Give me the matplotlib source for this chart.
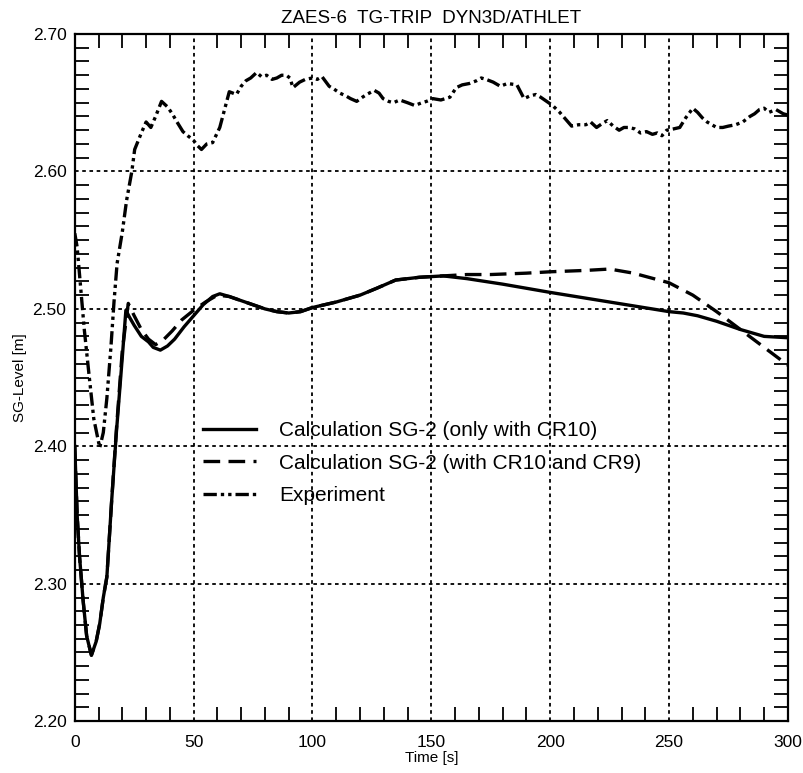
import numpy as np
import matplotlib
matplotlib.use("Agg")
import matplotlib.pyplot as plt
from matplotlib.ticker import MultipleLocator

plt.rcParams['font.family'] = ['Liberation Sans', 'DejaVu Sans']

# Experiment (dash-dot)
exp_t = [0, 1, 2, 4, 6, 8, 10.5, 12, 13.5, 15.2, 16.5, 17.8, 20, 21.8, 24, 25.2, 28, 30,
         32, 34, 36.5, 39, 41, 43, 45.5, 47.5, 49.8, 51.5, 53.3, 55.5, 58, 61, 63, 65, 68,
         70, 72, 74, 76.5, 78.5, 80.7, 83, 85, 87, 89, 90.5, 91.8, 94.6, 97, 100, 102, 104,
         107, 109, 111.5, 114, 116, 118.6, 121, 122.8, 126, 128, 129.7, 132, 134, 136.7,
         140, 143, 146, 148, 150.6, 154, 157.8, 160.5, 163, 166, 169, 171, 173, 176, 179,
         182, 186, 189, 191.5, 194, 196, 198.5, 201, 204, 206.5, 209, 212, 215, 217,
         219.5, 222, 224, 226.5, 229, 231, 233, 235.5, 238, 240.5, 243, 245, 247, 249,
         252, 254.5, 257, 260, 262, 264, 266, 268, 270, 272.6, 275, 278, 281, 284, 286,
         288, 290, 292, 295, 298, 300]
exp_v = [2.555, 2.545, 2.525, 2.485, 2.452, 2.420, 2.399, 2.410, 2.435, 2.472, 2.505, 2.533,
         2.556, 2.579, 2.600, 2.616, 2.628, 2.636, 2.632, 2.640, 2.651, 2.647, 2.642, 2.636,
         2.629, 2.626, 2.623, 2.619, 2.616, 2.620, 2.621, 2.632, 2.645, 2.658, 2.656,
         2.662, 2.666, 2.668, 2.672, 2.669, 2.670, 2.667, 2.668, 2.670, 2.670, 2.668,
         2.661, 2.665, 2.667, 2.668, 2.667, 2.669, 2.662, 2.660, 2.657, 2.655, 2.653,
         2.651, 2.654, 2.656, 2.659, 2.657, 2.653, 2.651, 2.650, 2.652, 2.650, 2.648,
         2.650, 2.651, 2.653, 2.652, 2.654, 2.661, 2.663, 2.664, 2.666, 2.668, 2.667,
         2.665, 2.662, 2.664, 2.663, 2.653, 2.655, 2.656, 2.654, 2.651, 2.648, 2.643,
         2.638, 2.633, 2.634, 2.634, 2.636, 2.632, 2.635, 2.637, 2.633, 2.630, 2.632,
         2.632, 2.631, 2.628, 2.629, 2.627, 2.628, 2.626, 2.630, 2.631, 2.632, 2.639,
         2.646, 2.643, 2.639, 2.636, 2.634, 2.632, 2.632, 2.633, 2.634, 2.636, 2.640,
         2.642, 2.645, 2.646, 2.643, 2.645, 2.642, 2.641]

# Calculation SG-2 (only with CR10), solid
cr10_t = [0, 1, 2, 3.5, 5, 7, 9, 10.5, 12, 13.5, 15.5, 17.5, 20, 21.5, 23, 25, 28, 31,
          33, 36, 39, 42, 46, 50, 54, 58, 61, 65, 70, 75, 80, 85, 90, 95, 100, 110,
          120, 127, 135, 145, 155, 165, 180, 200, 225, 250, 256, 262, 270, 280, 290, 300]
cr10_v = [2.400, 2.350, 2.320, 2.288, 2.262, 2.248, 2.258, 2.271, 2.290, 2.305, 2.360,
          2.410, 2.465, 2.499, 2.494, 2.488, 2.480, 2.476, 2.472, 2.470, 2.473, 2.478,
          2.487, 2.495, 2.503, 2.509, 2.511, 2.509, 2.506, 2.503, 2.500, 2.498, 2.497,
          2.498, 2.501, 2.505, 2.510, 2.515, 2.521, 2.523, 2.524, 2.522, 2.518, 2.512,
          2.505, 2.498, 2.497, 2.495, 2.491, 2.485, 2.480, 2.479]

# Calculation SG-2 (with CR10 and CR9), dashed
cr9_t = [0, 1, 2, 3.5, 5, 7, 9, 10.5, 12, 13.5, 15.5, 17.5, 20, 22.5, 25, 28, 31, 34,
         37, 41, 45, 50, 55, 60, 65, 70, 75, 80, 85, 90, 95, 100, 110, 120, 127, 135,
         145, 155, 165, 175, 190, 200, 215, 225, 235, 250, 260, 270, 280, 290, 300]
cr9_v = [2.400, 2.350, 2.320, 2.288, 2.262, 2.248, 2.258, 2.271, 2.290, 2.305, 2.360,
         2.412, 2.470, 2.504, 2.495, 2.485, 2.478, 2.474, 2.477, 2.484, 2.492, 2.499,
         2.505, 2.510, 2.509, 2.506, 2.503, 2.500, 2.498, 2.497, 2.498, 2.501, 2.505,
         2.510, 2.515, 2.521, 2.523, 2.524, 2.525, 2.525, 2.526, 2.527, 2.528, 2.529,
         2.526, 2.519, 2.510, 2.498, 2.485, 2.472, 2.459]

fig = plt.figure(figsize=(8.04, 7.73), dpi=100)
ax = fig.add_axes([0.093, 0.067, 0.887, 0.889])

ax.plot(cr10_t, cr10_v, color='black', lw=2.4, ls='-',
        label='Calculation SG-2 (only with CR10)')
ax.plot(cr9_t, cr9_v, color='black', lw=2.4, ls=(0, (5, 2.5)),
        label='Calculation SG-2 (with CR10 and CR9)')
ax.plot(exp_t, exp_v, color='black', lw=2.4, ls=(0, (4, 1.2, 1, 1.2, 1, 1.2)),
        label='Experiment')

ax.set_xlim(0, 300)
ax.set_ylim(2.20, 2.70)
ax.xaxis.set_major_locator(MultipleLocator(50))
ax.xaxis.set_minor_locator(MultipleLocator(10))
ax.yaxis.set_major_locator(MultipleLocator(0.1))
ax.yaxis.set_minor_locator(MultipleLocator(0.01))
ax.yaxis.set_major_formatter(matplotlib.ticker.FormatStrFormatter('%.2f'))
ax.tick_params(which='both', direction='in', top=True, right=True, width=1.3,
               labelsize=12.5)
ax.tick_params(which='major', length=0, pad=6)
ax.tick_params(axis='x', which='major', pad=10)
ax.tick_params(which='minor', length=10)
ax.grid(True, which='major', color='black', ls=(0, (2, 2)), lw=1.3)
for s in ax.spines.values():
    s.set_linewidth(1.6)

ax.set_title('ZAES-6  TG-TRIP  DYN3D/ATHLET', fontsize=13.5, pad=8)
ax.set_xlabel('Time [s]', fontsize=11, labelpad=1)
ax.set_ylabel('SG-Level [m]', fontsize=11, labelpad=4)

ax.legend(loc='upper left', bbox_to_anchor=(0.154, 0.464), frameon=False,
          fontsize=15, handlelength=2.55, handletextpad=1.1, labelspacing=0.65)

fig.savefig('out.png', dpi=100)
